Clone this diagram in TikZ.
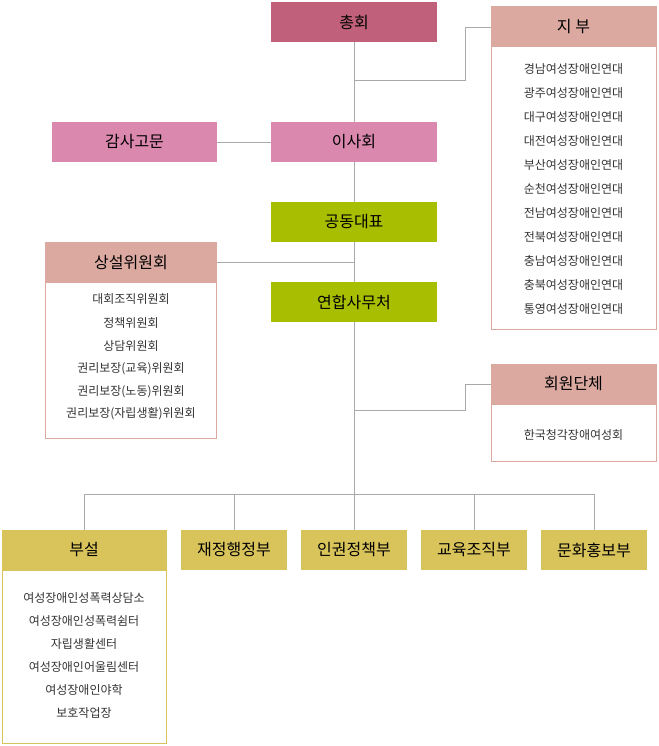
\documentclass[tikz,border=0pt]{standalone}
\usepackage{fontspec}
\setmainfont{Noto Sans CJK KR}
\definecolor{cRed}{HTML}{C0607A}
\definecolor{cPink}{HTML}{DB88AE}
\definecolor{cSalmon}{HTML}{DCA9A1}
\definecolor{cGreen}{HTML}{A8BE00}
\definecolor{cGold}{HTML}{D9C45C}
\definecolor{cLine}{HTML}{AAAAAA}
\tikzset{every picture/.style={line width=0.75pt}}
\tikzset{
  item/.style={font=\small, text=black!80},
  link/.style={draw=cLine, line width=0.75pt}
}
\begin{document}
\begin{tikzpicture}[x=0.75pt,y=0.75pt,yscale=-1,xscale=1]
\useasboundingbox (0,0) rectangle (658,746);

% links (behind)
\draw[link] (354,42) -- (354,494);
\draw[link] (354,80) -- (465,80) -- (465,27) -- (491,27);
\draw[link] (217,142) -- (271,142);
\draw[link] (216,262) -- (354,262);
\draw[link] (354,410) -- (465,410) -- (465,384) -- (491,384);
\draw[link] (84,530) -- (84,494) -- (594,494) -- (594,530);
\foreach \x in {234,354,474} \draw[link] (\x,494) -- (\x,530);

% main column
\fill[cRed] (271,2) rectangle (437,42);
\node (chonghoe) at (354,22) {\large 총회};
\fill[cPink] (271,122) rectangle (437,162);
\node (isahoe) at (354,142) {\large 이사회};
\fill[cPink] (52,122) rectangle (217,162);
\node (gamsa) at (134.5,142) {\large 감사고문};
\fill[cGreen] (271,202) rectangle (437,242);
\node (daepyo) at (354,222) {\large 공동대표};
\fill[cGreen] (271,282) rectangle (437,322);
\node (samucheo) at (354,302) {\large 연합사무처};

% 지부
\draw[cSalmon] (491.5,46) rectangle (656,329);
\fill[cSalmon] (491,6) rectangle (656.5,46);
\node (jibu) at (573.5,27) {\large 지 부};
\foreach \n [count=\i from 0] in {경남,광주,대구,대전,부산,순천,전남,전북,충남,충북,통영}
  \node[item] at (573.5,69+24*\i) {\n 여성장애인연대};

% 상설위원회
\draw[cSalmon] (45.5,282) rectangle (216,438);
\fill[cSalmon] (45,242) rectangle (216.5,282);
\node (sangseol) at (131,263) {\large 상설위원회};
\node[item] at (131,299) {대회조직위원회};
\node[item] at (131,323) {정책위원회};
\node[item] at (131,346) {상담위원회};
\node[item] at (131,369) {권리보장(교육)위원회};
\node[item] at (131,392) {권리보장(노동)위원회};
\node[item] at (131,414) {권리보장(자립생활)위원회};

% 회원단체
\draw[cSalmon] (491.5,404) rectangle (656,461);
\fill[cSalmon] (491,364) rectangle (656.5,404);
\node (hoewon) at (573.5,384) {\large 회원단체};
\node[item] at (573.5,435) {한국청각장애여성회};

% 부설
\draw[cGold] (2.5,570) rectangle (166,743);
\fill[cGold] (2,530) rectangle (166.5,570);
\node (buseol) at (84,550) {\large 부설};
\foreach \t [count=\i from 0] in {여성장애인성폭력상담소,여성장애인성폭력쉼터,자립생활센터,여성장애인어울림센터,여성장애인야학,보호작업장}
  \node[item] at (84,598+23*\i) {\t};

% departments
\foreach \x/\t in {234/재정행정부,354/인권정책부,474/교육조직부,594/문화홍보부}{
  \fill[cGold] (\x-53,530) rectangle (\x+53,570);
  \node at (\x,550) {\large \t};
}
\end{tikzpicture}
\end{document}
